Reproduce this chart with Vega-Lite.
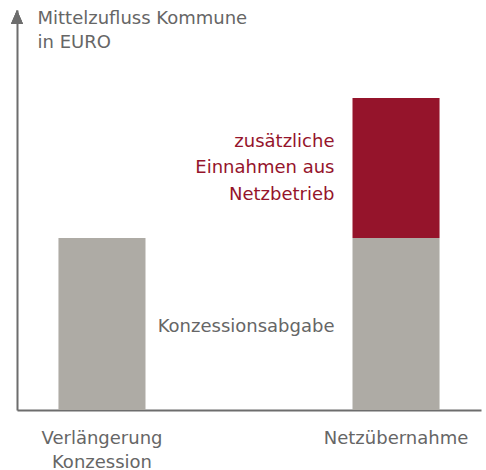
{
  "$schema": "https://vega.github.io/schema/vega-lite/v6.json",
  "width": 464,
  "height": 400,
  "autosize": {"type": "none"},
  "padding": {"left": 17, "top": 10, "right": 5, "bottom": 60},
  "background": "white",
  "config": {"view": {"stroke": null}, "font": "DejaVu Sans"},
  "data": {
    "values": [
      {"category": "Verlängerung Konzession", "segment": "Konzessionsabgabe", "order": 1, "value": 43, "label": ""},
      {"category": "Netzübernahme", "segment": "Konzessionsabgabe", "order": 1, "value": 43, "label": "Konzessionsabgabe"},
      {"category": "Netzübernahme", "segment": "zusätzliche Einnahmen aus Netzbetrieb", "order": 2, "value": 35, "label": "zusätzliche\nEinnahmen aus\nNetzbetrieb"}
    ]
  },
  "transform": [
    {"stack": "value", "groupby": ["category"], "sort": [{"field": "order"}], "as": ["v0", "v1"]}
  ],
  "encoding": {
    "x": {
      "field": "category",
      "type": "nominal",
      "sort": ["Verlängerung Konzession", "Netzübernahme"],
      "scale": {"paddingInner": 0.704, "paddingOuter": 0.141},
      "axis": {
        "title": null,
        "domainColor": "#6d6d6d",
        "domainWidth": 2,
        "ticks": false,
        "tickSize": 0,
        "labelAngle": 0,
        "labelFontSize": 18,
        "labelColor": "#666666",
        "labelBaseline": "alphabetic",
        "labelPadding": 33,
        "labelLineHeight": 24,
        "labelExpr": "split(datum.label, ' ')"
      }
    }
  },
  "layer": [
    {
      "mark": {"type": "bar"},
      "encoding": {
        "y": {
          "field": "v0",
          "type": "quantitative",
          "scale": {"domain": [0, 100], "nice": false},
          "axis": {
            "title": ["Mittelzufluss Kommune", "in EURO"],
            "titleAngle": 0,
            "titleAlign": "left",
            "titleBaseline": "alphabetic",
            "titleX": 20,
            "titleY": 13,
            "titleFontSize": 18,
            "titleFontWeight": "normal",
            "titleColor": "#666666",
            "titleLineHeight": 24,
            "labels": false,
            "ticks": false,
            "tickSize": 0,
            "grid": false,
            "domainColor": "#6d6d6d",
            "domainWidth": 2
          }
        },
        "y2": {"field": "v1"},
        "color": {
          "field": "segment",
          "type": "nominal",
          "scale": {
            "domain": ["Konzessionsabgabe", "zusätzliche Einnahmen aus Netzbetrieb"],
            "range": ["#aeaba5", "#95142b"]
          },
          "legend": null
        }
      }
    },
    {
      "transform": [{"filter": "datum.label == 'Konzessionsabgabe'"}],
      "mark": {"type": "text", "align": "right", "baseline": "alphabetic", "dx": -18, "dy": 93.7, "fontSize": 18, "color": "#666666"},
      "encoding": {
        "x": {"field": "category", "type": "nominal", "bandPosition": 0},
        "y": {"field": "v1", "type": "quantitative"},
        "text": {"field": "label"}
      }
    },
    {
      "transform": [{"filter": "datum.order == 2"}],
      "mark": {"type": "text", "align": "right", "baseline": "alphabetic", "dx": -18, "dy": 48.7, "fontSize": 18, "lineHeight": 26.5, "lineBreak": "\n", "color": "#95142b"},
      "encoding": {
        "x": {"field": "category", "type": "nominal", "bandPosition": 0},
        "y": {"field": "v1", "type": "quantitative"},
        "text": {"field": "label"}
      }
    },
    {
      "mark": {"type": "point", "shape": "M0,0L0.43,1L-0.43,1Z", "size": 784, "filled": true, "color": "#6d6d6d", "opacity": 1},
      "encoding": {
        "x": {"value": 0},
        "y": {"datum": 100}
      }
    }
  ]
}
